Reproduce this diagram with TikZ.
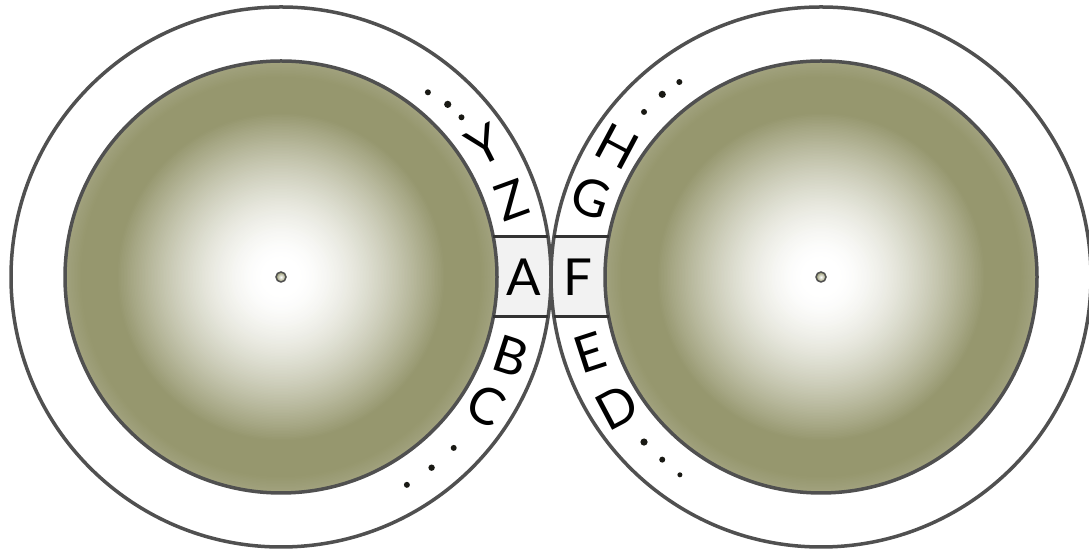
\documentclass[tikz,border=0pt]{standalone}
\usepackage{fontspec}
\setmainfont{Lato}
\definecolor{olv}{RGB}{150,151,110}
\definecolor{edgec}{RGB}{80,80,80}
\definecolor{boxg}{RGB}{242,242,242}
\definecolor{dotc}{RGB}{25,25,20}
\tikzset{
  ring/.style={draw=edgec, line width=3.5pt},
  lab/.style={inner sep=0pt, font=\fontsize{51}{60}\selectfont, text=black},
  sep/.style={draw=black!80, line width=3pt},
  dotm/.style={fill=dotc},
  hub/.style={draw=edgec, line width=1.5pt, inner color=white, outer color=olv}
}
\begin{document}
\begin{tikzpicture}[x=1pt,y=1pt]
\useasboundingbox (0,0) rectangle (1089,553);
\fill[white] (0,0) rectangle (1089,553);
\coordinate (L) at (281,276);
\coordinate (R) at (821,276);
% outer discs
\fill[white] (L) circle (270);
\fill[white] (R) circle (270);
% graded inner discs
\foreach \r in {216,214.5,...,1.5}{
  \pgfmathsetmacro\f{\r>=200 ? 100-(\r-200)*0.7 : (\r>=165 ? 100 : (\r>18 ? 100*(max(0.001,1-(165-\r)/147))^1.5 : 0))}
  \fill[olv!\f!white] (L) circle (\r);
  \fill[olv!\f!white] (R) circle (\r);
}
% boxes
\begin{scope}
  \clip (420,236) rectangle (680,316);
  \fill[boxg, even odd rule] (L) circle (270) (L) circle (216);
  \fill[boxg, even odd rule] (R) circle (270) (R) circle (216);
\end{scope}
% circle outlines
\draw[ring] (L) circle (270);
\draw[ring] (R) circle (270);
\draw[ring] (L) circle (216);
\draw[ring] (R) circle (216);
% box separators
\draw[sep] ([shift={(212.3,40)}]L) coordinate (lt1) -- ([shift={(267.0,40)}]L) coordinate (lt2);
\draw[sep] ([shift={(212.3,-40)}]L) coordinate (lb1) -- ([shift={(267.0,-40)}]L) coordinate (lb2);
\draw[sep] ([shift={(-212.3,40)}]R) coordinate (rt1) -- ([shift={(-267.0,40)}]R) coordinate (rt2);
\draw[sep] ([shift={(-212.3,-40)}]R) coordinate (rb1) -- ([shift={(-267.0,-40)}]R) coordinate (rb2);
% hubs
\path[hub] (L) circle (5);
\path[hub] (R) circle (5);
% left letters
\node[lab, rotate=0]   (nA) at ([shift={(0:243)}]L) {A};
\node[lab, rotate=-18] (nB) at ([shift={(-19:243)}]L) {B};
\node[lab, rotate=-28] (nC) at ([shift={(-32:242)}]L) {C};
\node[lab, rotate=20]  (nZ) at ([shift={(18.5:243)}]L) {Z};
\node[lab, rotate=27]  (nY) at ([shift={(33:242)}]L) {Y};
% right letters
\node[lab, rotate=0]   (nF) at ([shift={(180:243)}]R) {F};
\node[lab, rotate=-18] (nG) at ([shift={(161:243)}]R) {G};
\node[lab, rotate=-28] (nH) at ([shift={(147.5:242)}]R) {H};
\node[lab, rotate=18]  (nE) at ([shift={(198:243)}]R) {E};
\node[lab, rotate=28]  (nD) at ([shift={(212.5:242)}]R) {D};
% ellipsis dots
\fill[dotm] ([shift={(51.5:236)}]L) circle (3);
\fill[dotm] ([shift={(46:240)}]L) circle (3.6);
\fill[dotm] ([shift={(41.5:241)}]L) circle (3);
\fill[dotm] ([shift={(-58.8:243)}]L) circle (3);
\fill[dotm] ([shift={(-51.7:243)}]L) circle (3.2);
\fill[dotm] ([shift={(-44.7:243)}]L) circle (3);
\fill[dotm] ([shift={(137:242)}]R) circle (3);
\fill[dotm] ([shift={(131:242)}]R) circle (3.6);
\fill[dotm] ([shift={(126:241)}]R) circle (3);
\fill[dotm] ([shift={(223:242)}]R) circle (3.6);
\fill[dotm] ([shift={(229:242)}]R) circle (3);
\fill[dotm] ([shift={(234.5:243)}]R) circle (2.5);
\end{tikzpicture}
\end{document}
